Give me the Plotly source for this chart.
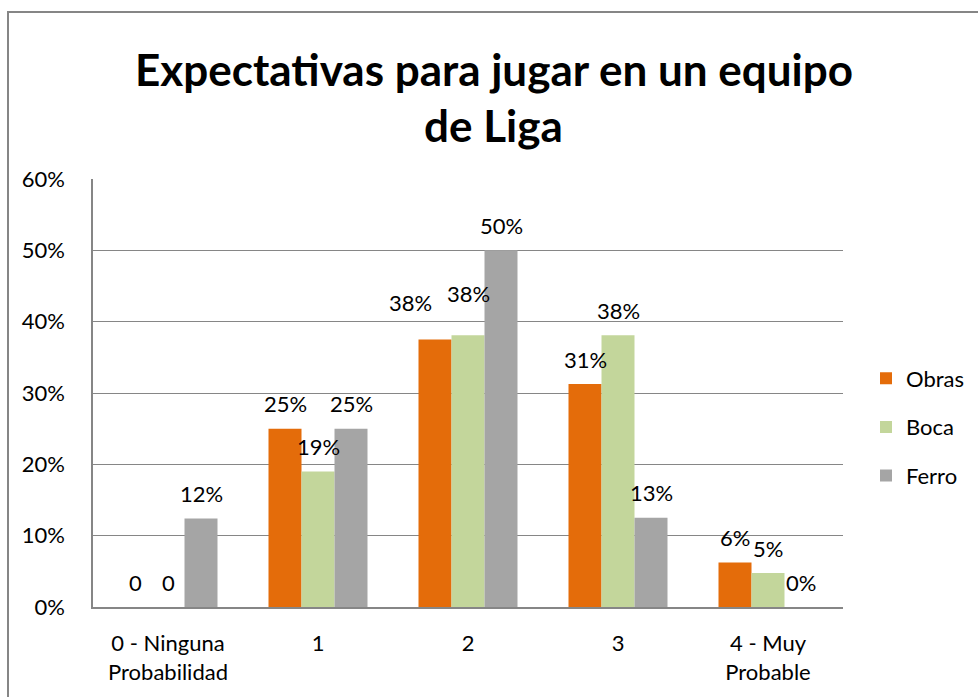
import plotly.graph_objects as go

categories = ["0 - Ninguna<br>Probabilidad", "1", "2", "3", "4 - Muy<br>Probable"]
series_names = ["Obras", "Boca", "Ferro"]
obras = [0.0, 0.25, 0.375, 0.3125, 0.0625]
boca = [0.0, 0.19, 0.381, 0.381, 0.0476]
ferro = [0.124, 0.25, 0.50, 0.125, 0.0]
obras_labels = ["0", "25%", "38%", "31%", "6%"]
boca_labels = ["0", "19%", "38%", "38%", "5%"]
ferro_labels = ["12%", "25%", "50%", "13%", "0%"]
y_ticks = [0, 0.1, 0.2, 0.3, 0.4, 0.5, 0.6]
y_tick_labels = ["0%", "10%", "20%", "30%", "40%", "50%", "60%"]

colors = ["#E46C0A", "#C3D69B", "#A5A5A5"]
values = [obras, boca, ferro]
labels = [obras_labels, boca_labels, ferro_labels]

FONT = "Lato, Calibri, Arial, sans-serif"
FS = 22
W, H = 978, 697
L, R, T, B = 93, 135, 179, 90
pw, ph = W - L - R, H - T - B

fig = go.Figure()
for name, vals, col in zip(series_names, values, colors):
    fig.add_trace(go.Bar(
        x=categories, y=vals, name=name, marker=dict(color=col, line=dict(width=0)),
        legendgroup=name, hoverinfo="skip",
    ))

# data labels (manual nudges for two labels moved in the original chart)
nudges = {(0, 2): (-25, 12), (1, 2): (0, 17)}
bar_w = pw / len(categories) * (1 - 0.34) / 3
annotations = []
for si, (vals, labs) in enumerate(zip(values, labels)):
    for ci, (v, t) in enumerate(zip(vals, labs)):
        dx, dy = nudges.get((si, ci), (0, 0))
        annotations.append(dict(
            x=categories[ci], y=v, xref="x", yref="y", text=t, showarrow=False,
            xshift=(si - 1) * bar_w + dx, yshift=25 + dy,
            xanchor="center", yanchor="middle",
            font=dict(family=FONT, size=FS, color="#000000"),
        ))

# title lines
title_x = (494 - L) / pw
for txt, ypix in [("Expectativas para jugar en un equipo", 69), ("de Liga", 125)]:
    annotations.append(dict(
        x=title_x, y=(H - B - ypix) / ph, xref="paper", yref="paper", text="<b>%s</b>" % txt,
        showarrow=False, xanchor="center", yanchor="middle",
        font=dict(family=FONT, size=44, color="#000000"),
    ))

fig.update_layout(
    width=W, height=H,
    margin=dict(l=L, r=R, t=T, b=B, pad=0, autoexpand=False),
    paper_bgcolor="white", plot_bgcolor="white",
    barmode="group", bargap=0.34, bargroupgap=0,
    font=dict(family=FONT, size=FS, color="#000000"),
    showlegend=True,
    legend=dict(
        x=(866 - L) / pw, y=(H - B - 427) / ph, xref="paper", yref="paper",
        xanchor="left", yanchor="middle",
        traceorder="grouped", tracegroupgap=17,
        font=dict(family=FONT, size=FS, color="#000000"),
        itemwidth=30, bgcolor="rgba(0,0,0,0)",
    ),
    annotations=annotations,
    shapes=[dict(
        type="rect", xref="paper", yref="paper",
        x0=(8 - L) / pw, x1=(W + 20 - L) / pw,
        y0=(H - B - (H + 20)) / ph, y1=(H - B - 12) / ph,
        line=dict(color="#868686", width=2), fillcolor="rgba(0,0,0,0)", layer="below",
    )],
)
fig.update_yaxes(
    range=[0, 0.6], tickvals=y_ticks, ticktext=y_tick_labels,
    showgrid=True, gridcolor="#868686", gridwidth=1,
    showline=True, linecolor="#868686", linewidth=1.5,
    ticks="", ticklabelstandoff=22, zeroline=False,
    tickfont=dict(family=FONT, size=FS, color="#000000"),
    fixedrange=True,
)
fig.update_xaxes(
    showline=True, linecolor="#868686", linewidth=2,
    ticks="", ticklabelstandoff=16, showgrid=False,
    tickfont=dict(family=FONT, size=FS, color="#000000"),
    fixedrange=True,
)

fig.write_html("out.html", config={"displayModeBar": False},
               post_script="document.body.style.margin='0';")
